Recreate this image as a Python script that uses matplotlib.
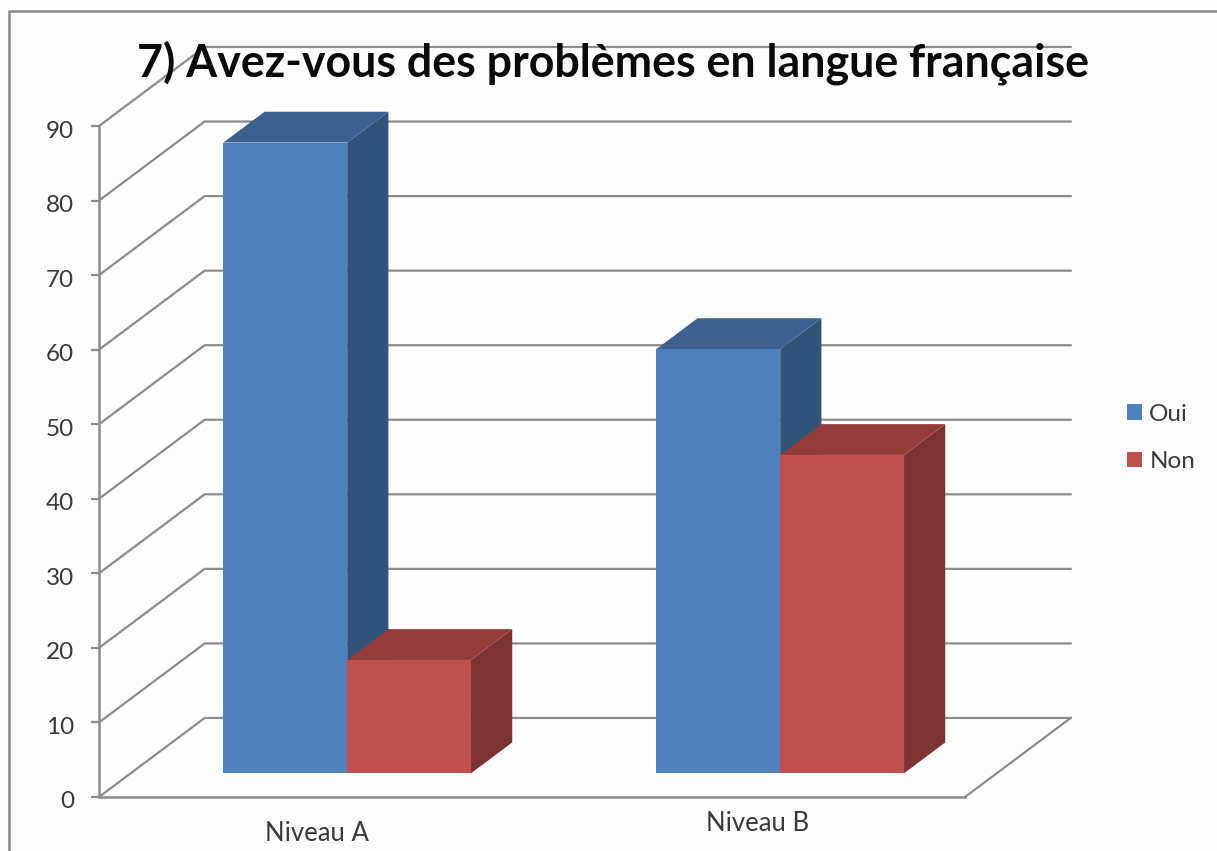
# 3D looking clustered column chart, drawn with a sheared depth offset
import matplotlib
matplotlib.use("Agg")
import matplotlib.pyplot as plt
from matplotlib.lines import Line2D
from matplotlib.transforms import ScaledTranslation

plt.rcParams['font.family'] = ['Lato', 'DejaVu Sans']

title = "7) Avez-vous des problèmes en langue française"
categories = ["Niveau A", "Niveau B"]
series_names = ["Oui", "Non"]
oui_values = [84.6, 56.9]
non_values = [15.2, 42.7]
y_ticks = [0, 10, 20, 30, 40, 50, 60, 70, 80, 90]

W, H = 1217, 851
grid_color = '#8c8c8c'
text_color = '#3a3a3a'

# depth of the floor in data units (x categories, y values)
depth_x = 0.244
depth_y = 10.6
bar_width = 0.286
bar_front = 0.30  # where the bars start in the depth of the floor
bar_depth = 0.39  # how deep the bars are, as a part of the floor

fig = plt.figure(figsize=(W / 100, H / 100), dpi=100, facecolor='#fdfdfd')
ax = fig.add_axes([99 / W, 1 - 797 / H, 866 / W, 671 / H])
ax.patch.set_visible(False)
ax.set_xlim(0, 2)
ax.set_ylim(0, 90)

# back wall and side wall lines
for v in y_ticks:
    ax.plot([0, depth_x, 2 + depth_x], [v, v + depth_y, v + depth_y],
            color=grid_color, lw=1.6, clip_on=False, zorder=1)
ax.plot([2, 2 + depth_x], [0, depth_y], color=grid_color, lw=1.6, clip_on=False, zorder=1)


def draw_bars(centers, values, name, front, side, top):
    x0 = bar_front * depth_x
    y0 = bar_front * depth_y
    dx = bar_depth * depth_x
    dy = bar_depth * depth_y
    bars = ax.bar([c + x0 for c in centers], values, bar_width, bottom=y0, color=front,
                  label=name, zorder=3, clip_on=False)
    for c, v in zip(centers, values):
        left = c + x0 - bar_width / 2
        right = left + bar_width
        ax.fill([right, right + dx, right + dx, right], [y0, y0 + dy, y0 + v + dy, y0 + v],
                color=side, lw=0, zorder=3, clip_on=False)
        ax.fill([left, left + dx, right + dx, right], [y0 + v, y0 + v + dy, y0 + v + dy, y0 + v],
                color=top, lw=0, zorder=3, clip_on=False)
    return bars


group_centers = [0.5, 1.5]
draw_bars([c - bar_width / 2 for c in group_centers], oui_values, series_names[0],
          '#4f81bd', '#31547a', '#3c6190')
draw_bars([c + bar_width / 2 for c in group_centers], non_values, series_names[1],
          '#c0504d', '#7d3331', '#943c3a')

for s in ['top', 'right']:
    ax.spines[s].set_visible(False)
for s in ['left', 'bottom']:
    ax.spines[s].set_color(grid_color)
    ax.spines[s].set_linewidth(1.8)
    ax.spines[s].set_zorder(2)

ax.set_yticks(y_ticks)
ax.tick_params(axis='y', length=6, width=1.6, color=grid_color, pad=12,
               labelsize=17.5, labelcolor=text_color)
# numbers sit a little under their ticks in the original
shift = ScaledTranslation(0, -3 / 100, fig.dpi_scale_trans)
for lab in ax.get_yticklabels():
    lab.set_transform(lab.get_transform() + shift)
# the two labels do not sit level in the original
ax.set_xticks([0.503, 1.52])
ax.set_xticklabels(categories)
ax.tick_params(axis='x', length=0, labelsize=18.5, labelcolor=text_color)
ax.get_xticklabels()[0].set_y(-0.028)
ax.get_xticklabels()[1].set_y(-0.014)

fig.text(613 / W, 1 - 63 / H, title, ha='center', va='center', fontsize=32.2,
         fontweight='bold', color='#0a0a0a', zorder=5)

leg = ax.legend(loc='center left', bbox_to_anchor=(1127 / W, 1 - 438 / H),
                bbox_transform=fig.transFigure, frameon=False, fontsize=17.5,
                handlelength=0.62, handleheight=0.62, handletextpad=0.3,
                labelspacing=1.08, borderpad=0, borderaxespad=0)
for t in leg.get_texts():
    t.set_color(text_color)

# frame of the chart area, only left and top show up
fig.add_artist(Line2D([9 / W, 9 / W, 1], [0, 1 - 11 / H, 1 - 11 / H], color='#8a8a8a', lw=1.8))

fig.savefig("out.png", dpi=100, facecolor=fig.get_facecolor())
